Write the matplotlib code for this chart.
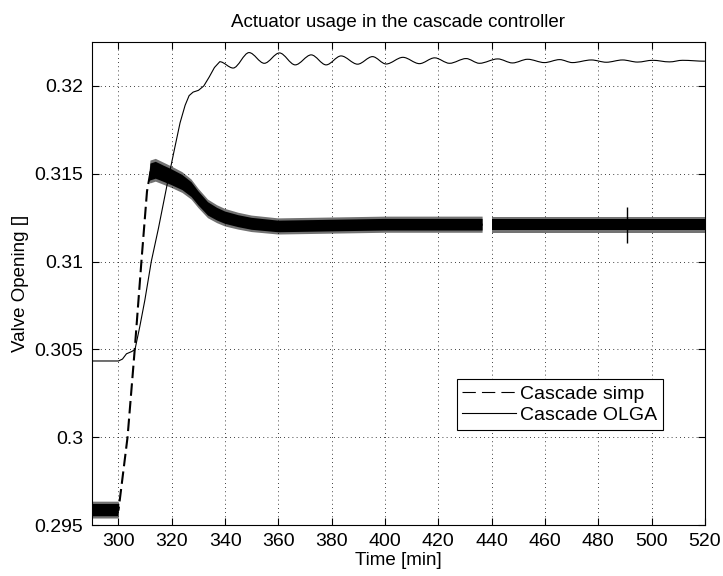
import numpy as np
import matplotlib
matplotlib.use("Agg")
import matplotlib.pyplot as plt
from matplotlib.path import Path
import matplotlib.patches as mpatches
from matplotlib.lines import Line2D

plt.rcParams['font.family'] = ['Liberation Sans', 'DejaVu Sans']

# ---- data ----
# Cascade OLGA: rise (polyline part), then the peaks/troughs of the ringing
olga_rise_t = [290, 300, 301.5, 303, 305, 306.2, 308, 309.9, 312.3, 315, 318.4,
               321, 323.1, 325, 326.5, 328, 330, 332, 334, 336]
olga_rise_v = [0.30434, 0.30434, 0.30445, 0.30475, 0.30488, 0.30500, 0.30630,
               0.30781, 0.31000, 0.31190, 0.31450, 0.31640, 0.31790, 0.31890,
               0.31945, 0.31965, 0.31975, 0.32000, 0.32050, 0.32105]
olga_ext_t = [338, 343, 349, 354.7, 360.4, 366.3, 372.3, 377.9, 383.5, 389.7,
              395.3, 400.4, 406.7, 412.9, 418.6, 424.2, 430.4, 435.4, 442.3,
              447.8, 453.5, 459.8, 465.5, 470.3, 477.4, 483, 489.1, 494.7, 500.4,
              506.7, 511.6, 520]
olga_ext_v = [0.32138, 0.32102, 0.32190, 0.32129, 0.32188, 0.32120, 0.32177,
              0.32120, 0.32171, 0.32124, 0.32167, 0.32125, 0.32163, 0.32127,
              0.32160, 0.32129, 0.32156, 0.32129, 0.32154, 0.32131, 0.32152,
              0.32133, 0.32150, 0.32133, 0.32148, 0.32135, 0.32148, 0.32136,
              0.32146, 0.32137, 0.32146, 0.32141]

# Cascade simp (mean path, noisy band around it)
simp_t = [290, 300, 300.3, 303.4, 306.1, 308.6, 310.7, 311.4, 312, 314, 317, 320,
          324, 327.4, 330, 333.6, 337, 340, 345, 350, 360, 380, 400, 420, 440,
          460, 480, 500, 520]
simp_v = [0.29585, 0.29585, 0.29620, 0.30000, 0.30500, 0.31000, 0.31400, 0.31460,
          0.31510, 0.31520, 0.31500, 0.31480, 0.31450, 0.31410, 0.31360, 0.31300,
          0.31270, 0.31250, 0.31230, 0.31215, 0.31200, 0.31205, 0.31210, 0.31210,
          0.31210, 0.31210, 0.31210, 0.31210, 0.31210]
# noise half-widths (dense core / occasional spikes)
simp_core = [0.00035, 0.00035, 0, 0, 0, 0, 0, 0, 0.00048, 0.00048, 0.00046,
             0.00045, 0.00043, 0.00042, 0.0004, 0.00038, 0.00036, 0.00035,
             0.00034, 0.00034, 0.00033, 0.00033, 0.00033, 0.00033, 0.00033,
             0.00033, 0.00033, 0.00033, 0.00033]
simp_spike = [0.00048, 0.00048, 0, 0, 0, 0, 0, 0, 0.00065, 0.00065, 0.00063,
              0.00061, 0.00059, 0.00057, 0.00055, 0.00053, 0.00051, 0.0005,
              0.00048, 0.00047, 0.00046, 0.00046, 0.00046, 0.00046, 0.00046,
              0.00046, 0.00046, 0.00046, 0.00046]
simp_gaps = [(436.6, 440.3)]
spike_t = [490.9]
spike_lo = [0.31104]
spike_hi = [0.31313]

yticks = [0.295, 0.3, 0.305, 0.31, 0.315, 0.32]
yticklabels = ['0.295', '0.3', '0.305', '0.31', '0.315', '0.32']
xticks = list(range(300, 521, 20))

# ---- plot ----
fig = plt.figure(figsize=(7.23, 5.76), dpi=100)
ax = fig.add_axes([0.127, 0.0885, 0.848, 0.8385])

# simp band, split at the gaps
t = np.array(simp_t, dtype=float)
m = np.array(simp_v)
core = np.array(simp_core)
spk = np.array(simp_spike)
for a, b in simp_gaps:
    for g in (a, b):
        i = np.searchsorted(t, g)
        t = np.insert(t, i, g)
        m = np.insert(m, i, np.interp(g, simp_t, simp_v))
        core = np.insert(core, i, np.interp(g, simp_t, simp_core))
        spk = np.insert(spk, i, np.interp(g, simp_t, simp_spike))
ok = np.ones(len(t), dtype=bool)
for a, b in simp_gaps:
    ok &= ~((t > a) & (t < b))

ax.fill_between(t, m - spk, m + spk, where=ok, color='k', alpha=0.55,
                lw=0, zorder=2)
ax.fill_between(t, m - core, m + core, where=ok, color='k', lw=0, zorder=3)
ax.vlines(spike_t, spike_lo, spike_hi, color='k', lw=1, zorder=3)

m_line = m.copy()
m_line[~ok] = np.nan
ax.plot(t, m_line, color='k', ls=(0, (6, 2.5)), lw=1.5, zorder=4)

# OLGA: straight segments on the rise, smooth swings between extremes
verts = [(olga_rise_t[0], olga_rise_v[0])]
codes = [Path.MOVETO]
for x, y in zip(olga_rise_t[1:] + olga_ext_t[:1], olga_rise_v[1:] + olga_ext_v[:1]):
    verts.append((x, y))
    codes.append(Path.LINETO)
for k in range(1, len(olga_ext_t)):
    x0, y0 = olga_ext_t[k - 1], olga_ext_v[k - 1]
    x1, y1 = olga_ext_t[k], olga_ext_v[k]
    dx = x1 - x0
    verts += [(x0 + dx / 3, y0), (x0 + 2 * dx / 3, y1), (x1, y1)]
    codes += [Path.CURVE4] * 3
ax.add_patch(mpatches.PathPatch(Path(verts, codes), facecolor='none',
                                edgecolor='k', lw=0.8, zorder=4))

ax.set_xlim(290, 520)
ax.set_ylim(0.295, 0.3225)
ax.set_xticks(xticks)
ax.set_yticks(yticks)
ax.set_yticklabels(yticklabels)
ax.tick_params(direction='in', length=5, width=0.8, top=True, right=True,
               labelsize=14, pad=6)
ax.grid(True, color='k', ls=(0, (1, 4)), lw=0.6)
for s in ax.spines.values():
    s.set_linewidth(0.8)

ax.set_title('Actuator usage in the cascade controller', fontsize=13.5, pad=11)
ax.set_xlabel('Time [min]', fontsize=13.5, labelpad=1)
ax.set_ylabel('Valve Opening []', fontsize=13.5, labelpad=4)

handles = [Line2D([], [], color='k', ls=(0, (12, 5.5)), lw=0.8),
           Line2D([], [], color='k', lw=0.8)]
leg = ax.legend(handles, ['Cascade simp', 'Cascade OLGA'], loc='upper left',
                bbox_to_anchor=(0.595, 0.302), fontsize=14,
                handlelength=2.75, handletextpad=0.2, borderpad=0.3,
                labelspacing=0.2, borderaxespad=0, fancybox=False,
                framealpha=1, edgecolor='k')
leg.get_frame().set_linewidth(0.8)

fig.savefig('out.png', dpi=100, facecolor='white')
